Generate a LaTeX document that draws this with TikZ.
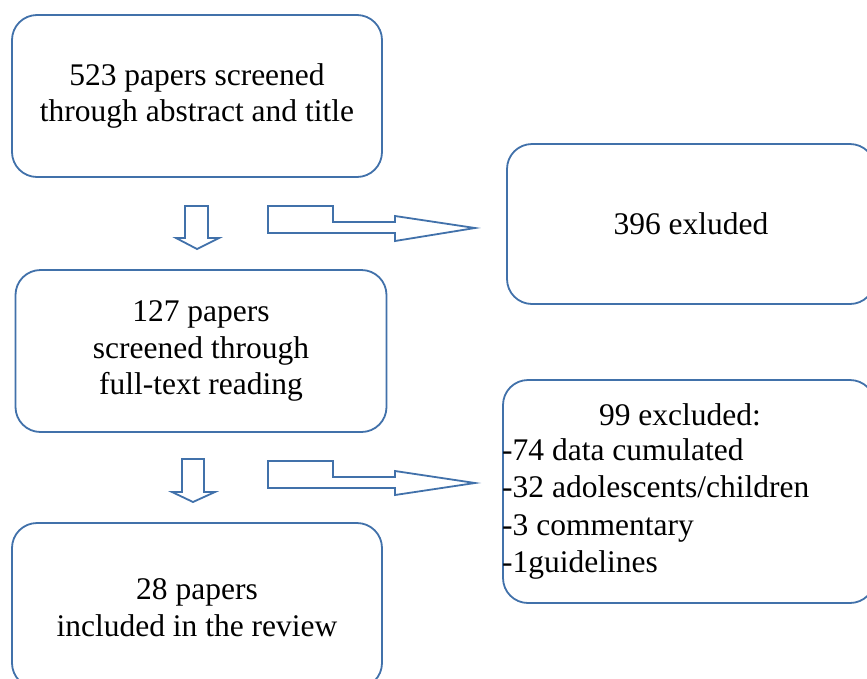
\documentclass[tikz,border=0pt]{standalone}
\usepackage{fontspec}
\setmainfont{Liberation Serif}
\definecolor{bord}{RGB}{65,113,170}
\begin{document}
\begin{tikzpicture}[x=1pt,y=-1pt,
  box/.style={draw=bord, line width=1.8pt, rounded corners=25pt, fill=white, inner sep=0pt},
  txt/.style={inner sep=0pt, align=center, font=\fontsize{31.5}{36.5}\selectfont},
  arr/.style={draw=bord, line width=1.8pt, fill=white, line join=miter}]
\useasboundingbox[fill=white] (0,0) rectangle (867,678);
% boxes
\node[box, minimum width=370pt, minimum height=162pt] (b1) at (197,96) {};
\node[box, minimum width=368pt, minimum height=160pt] (b2) at (691,224) {};
\node[box, minimum width=371pt, minimum height=162pt] (b3) at (201,351) {};
\node[box, minimum width=372pt, minimum height=223pt] (b4) at (689,491.5) {};
\node[box, minimum width=370pt, minimum height=165pt] (b5) at (197,605.5) {};
% texts
\node[txt] (t1) at (b1.center) {523 papers screened\\through abstract and title};
\node[txt] (t2) at (b2.center) {396 exluded};
\node[txt] (t3) at (b3.center) {127 papers\\screened through\\full-text reading};
\node[txt] (t5) at ([yshift=-2pt]b5.center) {28 papers\\included in the review};
\node[txt, anchor=base] (t4a) at (680,425) {99 excluded:};
\node[txt, anchor=base west, align=left] (t4b) at (502,460) {-74 data cumulated};
\node[txt, anchor=base west, align=left] (t4c) at (502,497) {-32 adolescents/children};
\node[txt, anchor=base west, align=left] (t4d) at (502,535) {-3 commentary};
\node[txt, anchor=base west, align=left] (t4e) at (502,572) {-1guidelines};
% block arrows
\draw[arr] (185,206) -- (208,206) -- (208,238) -- (219,238) -- (197,249) -- (176,238) -- (185,238) -- cycle;
\draw[arr] (268,206) -- (333,206) -- (333,222) -- (395,222) -- (395,216) -- (475,228) -- (395,241) -- (395,233) -- (268,233) -- cycle;
\draw[arr] (182,459) -- (204,459) -- (204,492) -- (215,492) -- (193,502) -- (172,492) -- (182,492) -- cycle;
\draw[arr] (268,461) -- (333,461) -- (333,477) -- (395,477) -- (395,471) -- (475,483) -- (395,495) -- (395,488) -- (268,488) -- cycle;
\end{tikzpicture}
\end{document}
